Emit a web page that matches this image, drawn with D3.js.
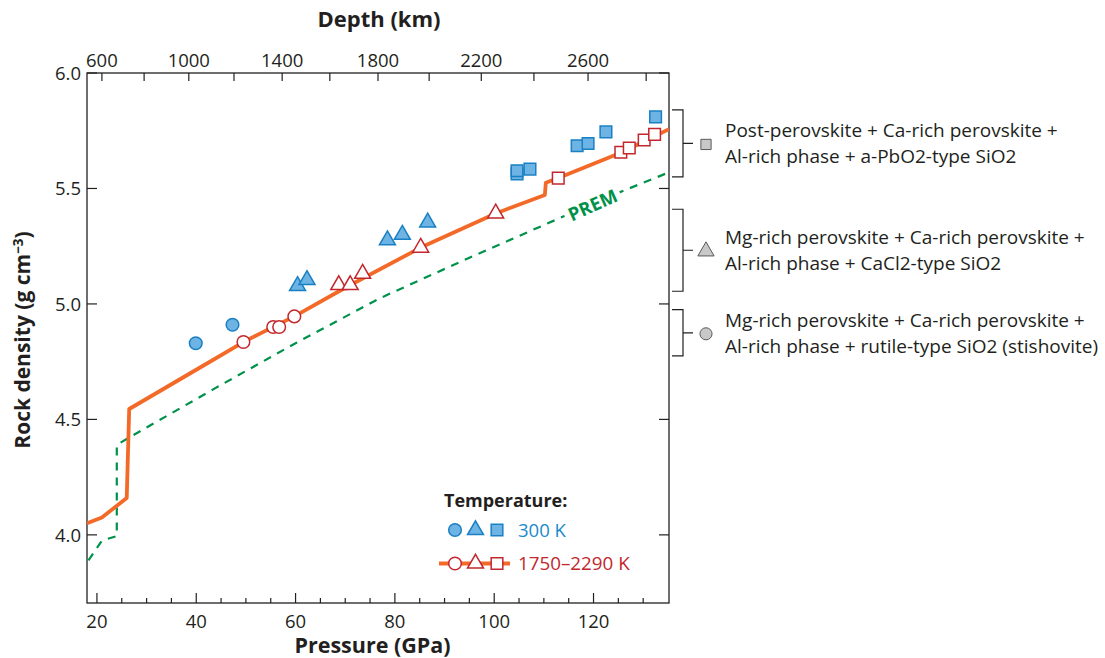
<!DOCTYPE html>
<html>
<head>
<meta charset="utf-8">
<script src="https://cdn.jsdelivr.net/npm/d3@7"></script>
<style>
  html, body { margin: 0; padding: 0; background: #fff; }
  svg { display: block; }
  text { font-family: "Open Sans", "Noto Sans", sans-serif; fill: #231f20; }
</style>
</head>
<body>
<svg id="chart" width="1105" height="658"></svg>
<script>
// ---------------- data ----------------
const pressureTicks = [20, 40, 60, 80, 100, 120];
const pressureMinorTicks = [20, 25, 30, 35, 40, 45, 50, 55, 60, 65, 70, 75, 80, 85, 90, 95, 100, 105, 110, 115, 120, 125, 130];
const densityTicks = [4.0, 4.5, 5.0, 5.5, 6.0];
const depthTicks = [600, 800, 1000, 1200, 1400, 1600, 1800, 2000, 2200, 2400, 2600, 2800];
const depthTickPressure = [21.0, 29.5, 38.5, 47.6, 57.3, 66.9, 76.6, 86.9, 97.4, 108.0, 118.9, 130.6];
const depthLabelled = [600, 1000, 1400, 1800, 2200, 2600];

// 300 K measurements
const coldCircleP = [39.9, 47.3];
const coldCircleRho = [4.83, 4.91];
const coldTriP = [60.4, 62.3, 78.5, 81.5, 86.6];
const coldTriRho = [5.078, 5.104, 5.276, 5.30, 5.353];
const coldSquareP = [104.6, 104.6, 107.2, 116.7, 118.9, 122.5, 132.5];
const coldSquareRho = [5.563, 5.577, 5.584, 5.685, 5.695, 5.745, 5.81];

// 1750-2290 K measurements
const hotCircleP = [49.5, 55.5, 56.7, 59.75];
const hotCircleRho = [4.835, 4.90, 4.90, 4.946];
const hotTriP = [68.7, 71.0, 73.5, 85.2, 100.3];
const hotTriRho = [5.082, 5.082, 5.131, 5.244, 5.392];
const hotSquareP = [112.9, 125.5, 127.2, 130.2, 132.3];
const hotSquareRho = [5.545, 5.657, 5.675, 5.71, 5.734];

// model (high-temperature) density curve
const modelP = [18, 21, 26, 26.5, 40, 49.5, 59.75, 70, 85.2, 100.3, 110.2, 110.4, 112.9, 125.5, 135.2];
const modelRho = [4.05, 4.075, 4.16, 4.545, 4.715, 4.835, 4.946, 5.07, 5.244, 5.392, 5.472, 5.525, 5.545, 5.655, 5.757];

// PREM
const premP = [18.3, 21, 24, 24, 30, 43.4, 60, 77, 95, 114.6, 126, 135.2];
const premRho = [3.89, 3.975, 3.995, 4.39, 4.465, 4.63, 4.83, 5.025, 5.2, 5.385, 5.49, 5.57];

// phase assemblage brackets (density ranges)
const phaseLow = [5.55, 5.055, 4.775];
const phaseHigh = [5.84, 5.41, 4.975];
const phaseSymbols = ["square", "triangle", "circle"];
const phaseLine1 = ["Post-perovskite + Ca-rich perovskite +", "Mg-rich perovskite + Ca-rich perovskite +", "Mg-rich perovskite + Ca-rich perovskite +"];
const phaseLine2 = ["Al-rich phase + a-PbO2-type SiO2", "Al-rich phase + CaCl2-type SiO2", "Al-rich phase + rutile-type SiO2 (stishovite)"];

// ---------------- drawing ----------------
const svg = d3.select("#chart");
const L = 87, R = 669, T = 73, B = 603;
const x = d3.scaleLinear().domain([18, 135.2]).range([L, R]);
const y = d3.scaleLinear().domain([3.705, 6.0]).range([B, T]);

const BLUE_FILL = "#6db3e3", BLUE_STROKE = "#1a80c4", RED = "#c1272d";
const ORANGE = "#f36a28", GREEN = "#00914a";
const TICK_FONT = 18.5;

const sym = {
  circle: d3.symbol().type(d3.symbolCircle).size(125),
  triangle: d3.symbol().type(d3.symbolTriangle).size(110),
  square: d3.symbol().type(d3.symbolSquare).size(135)
};

// frame
svg.append("rect").attr("x", L).attr("y", T).attr("width", R - L).attr("height", B - T)
  .attr("fill", "none").attr("stroke", "#231f20").attr("stroke-width", 1.3);

// bottom axis (ticks inward)
const bottomG = svg.append("g").attr("transform", `translate(0,${B})`);
bottomG.selectAll("line").data(pressureMinorTicks).join("line")
  .attr("x1", d => x(d)).attr("x2", d => x(d))
  .attr("y1", 0).attr("y2", d => pressureTicks.includes(d) ? -10 : -5)
  .attr("stroke", "#231f20").attr("stroke-width", 1.2);
bottomG.selectAll("text").data(pressureTicks).join("text")
  .attr("x", d => x(d)).attr("y", 24.5).attr("text-anchor", "middle")
  .attr("font-size", TICK_FONT).text(d => d);
svg.append("text").attr("x", 372.5).attr("y", 653).attr("text-anchor", "middle")
  .attr("font-size", 21.5).attr("font-weight", "bold").text("Pressure (GPa)");

// top axis: depth
const topG = svg.append("g").attr("transform", `translate(0,${T})`);
topG.selectAll("line").data(depthTicks).join("line")
  .attr("x1", (d, i) => x(depthTickPressure[i])).attr("x2", (d, i) => x(depthTickPressure[i]))
  .attr("y1", 0).attr("y2", 8).attr("stroke", "#231f20").attr("stroke-width", 1.2);
topG.selectAll("text").data(depthLabelled).join("text")
  .attr("x", d => x(depthTickPressure[depthTicks.indexOf(d)])).attr("y", -6.5)
  .attr("text-anchor", "middle").attr("font-size", TICK_FONT).text(d => d);
svg.append("text").attr("x", 379).attr("y", 27).attr("text-anchor", "middle")
  .attr("font-size", 22).attr("font-weight", "bold").text("Depth (km)");

// left axis
const leftG = svg.append("g");
leftG.selectAll("line").data(densityTicks).join("line")
  .attr("x1", L).attr("x2", L + 10).attr("y1", d => y(d)).attr("y2", d => y(d))
  .attr("stroke", "#231f20").attr("stroke-width", 1.2);
leftG.selectAll("text").data(densityTicks).join("text")
  .attr("x", L - 6).attr("y", d => y(d)).attr("dy", "0.36em").attr("text-anchor", "end")
  .attr("font-size", TICK_FONT).text(d => d.toFixed(1));
const yl = svg.append("text").attr("transform", "translate(30,340) rotate(-90)")
  .attr("text-anchor", "middle").attr("font-size", 21).attr("font-weight", "bold");
yl.append("tspan").text("Rock density (g cm");
yl.append("tspan").attr("dy", -7).attr("font-size", 13.5).text("\u22123");
yl.append("tspan").attr("dy", 7).text(")");

// right axis inner ticks
svg.append("g").selectAll("line").data(densityTicks).join("line")
  .attr("x1", R).attr("x2", R - 10).attr("y1", d => y(d)).attr("y2", d => y(d))
  .attr("stroke", "#231f20").attr("stroke-width", 1.2);

// clip for lines
svg.append("clipPath").attr("id", "plotclip").append("rect")
  .attr("x", L).attr("y", T).attr("width", R - L).attr("height", B - T);

// PREM dashed line
const line = d3.line().x(d => x(d[0])).y(d => y(d[1]));
const premData = premP.map((p, i) => [p, premRho[i]]);
svg.append("path").attr("d", line(premData)).attr("clip-path", "url(#plotclip)")
  .attr("fill", "none").attr("stroke", GREEN).attr("stroke-width", 2.2)
  .attr("stroke-dasharray", "8,7");
// PREM label with white backing gap
const premLabelP = 119.8, premLabelRho = 5.428;
const ang = -24;
svg.append("rect").attr("x", -30).attr("y", -10).attr("width", 60).attr("height", 20)
  .attr("fill", "#fff")
  .attr("transform", `translate(${x(premLabelP)},${y(premLabelRho)}) rotate(${ang})`);
svg.append("text").attr("transform", `translate(${x(premLabelP)},${y(premLabelRho)}) rotate(${ang})`)
  .attr("text-anchor", "middle").attr("dy", "0.36em")
  .attr("font-size", 18.5).attr("font-weight", "bold")
  .style("fill", GREEN).text("PREM");

// model line
const modelData = modelP.map((p, i) => [p, modelRho[i]]);
svg.append("path").attr("d", line(modelData)).attr("clip-path", "url(#plotclip)")
  .attr("fill", "none").attr("stroke", ORANGE).attr("stroke-width", 3.8)
  .attr("stroke-linejoin", "round");

// points
function drawPoints(P, Rho, type, fill, stroke) {
  svg.append("g").selectAll("path").data(P.map((p, i) => [p, Rho[i]])).join("path")
    .attr("transform", d => `translate(${x(d[0])},${y(d[1])})`)
    .attr("d", sym[type]())
    .attr("fill", fill).attr("stroke", stroke).attr("stroke-width", 1.5);
}
drawPoints(coldCircleP, coldCircleRho, "circle", BLUE_FILL, BLUE_STROKE);
drawPoints(coldTriP, coldTriRho, "triangle", BLUE_FILL, BLUE_STROKE);
drawPoints(coldSquareP, coldSquareRho, "square", BLUE_FILL, BLUE_STROKE);
drawPoints(hotCircleP, hotCircleRho, "circle", "#fff", RED);
drawPoints(hotTriP, hotTriRho, "triangle", "#fff", RED);
drawPoints(hotSquareP, hotSquareRho, "square", "#fff", RED);

// legend
const lg = svg.append("g");
lg.append("text").attr("x", 444).attr("y", 507).attr("font-size", 18).attr("font-weight", "bold")
  .text("Temperature:");
const legX = [455, 475.5, 497];
const legTypes = ["circle", "triangle", "square"];
lg.append("line").attr("x1", 439).attr("x2", 510).attr("y1", 563.5).attr("y2", 563.5)
  .attr("stroke", ORANGE).attr("stroke-width", 3.8);
legTypes.forEach((t, i) => {
  lg.append("path").attr("transform", `translate(${legX[i]},530)`).attr("d", sym[t]())
    .attr("fill", BLUE_FILL).attr("stroke", BLUE_STROKE).attr("stroke-width", 1.5);
  lg.append("path").attr("transform", `translate(${legX[i]},563.5)`).attr("d", sym[t]())
    .attr("fill", "#fff").attr("stroke", RED).attr("stroke-width", 1.5);
});
lg.append("text").attr("x", 518).attr("y", 536.5).attr("font-size", 18.5).style("fill", "#1b8acb").text("300 K");
lg.append("text").attr("x", 518).attr("y", 570).attr("font-size", 18.8).style("fill", RED).text("1750\u20132290 K");

// phase brackets
const br = svg.append("g");
const grey = {
  circle: d3.symbol().type(d3.symbolCircle).size(115),
  triangle: d3.symbol().type(d3.symbolTriangle).size(115),
  square: d3.symbol().type(d3.symbolSquare).size(105)
};
phaseLow.forEach((lo, i) => {
  const y0 = y(phaseHigh[i]), y1 = y(lo), ym = (y0 + y1) / 2;
  br.append("path")
    .attr("d", `M672,${y0}H683V${y1}H672M683,${ym}H693`)
    .attr("fill", "none").attr("stroke", "#231f20").attr("stroke-width", 1.2);
  br.append("path").attr("transform", `translate(706,${ym + 1})`).attr("d", grey[phaseSymbols[i]]())
    .attr("fill", "#c8c8c8").attr("stroke", "#5a5a5a").attr("stroke-width", 1);
  br.append("text").attr("x", 725).attr("y", ym - 6).attr("font-size", 19).text(phaseLine1[i]);
  br.append("text").attr("x", 725).attr("y", ym + 20).attr("font-size", 19).text(phaseLine2[i]);
});
</script>
</body>
</html>
